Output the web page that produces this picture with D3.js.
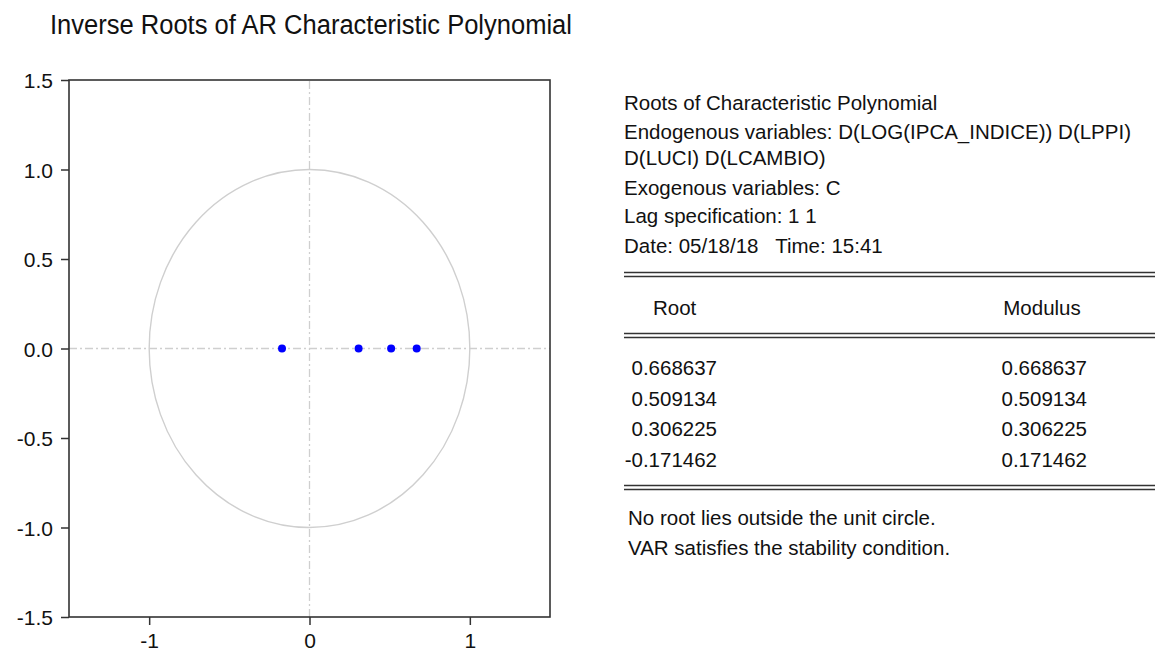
<!DOCTYPE html>
<html>
<head>
<meta charset="utf-8">
<script src="https://cdn.jsdelivr.net/npm/d3@7/dist/d3.min.js"></script>
<style>
  body { margin: 0; background: #fff; }
  text { font-family: "Liberation Sans", Arial, sans-serif; fill: #111; white-space: pre; }
</style>
</head>
<body>
<div id="chart"></div>
<script>
// inverse roots (real, imaginary)
let rootsRe = [0.668637, 0.509134, 0.306225, -0.171462];
let rootsIm = [0, 0, 0, 0];
let rootLabels = ["0.668637", "0.509134", "0.306225", "-0.171462"];
let modulusLabels = ["0.668637", "0.509134", "0.306225", "0.171462"];
let yTicks = [-1.5, -1.0, -0.5, 0.0, 0.5, 1.0, 1.5];
let xTicks = [-1, 0, 1];
let infoLines = [
  "Roots of Characteristic Polynomial",
  "Endogenous variables: D(LOG(IPCA_INDICE)) D(LPPI)",
  "D(LUCI) D(LCAMBIO)",
  "Exogenous variables: C",
  "Lag specification: 1 1",
  "Date: 05/18/18   Time: 15:41"
];
let footLines = [
  "No root lies outside the unit circle.",
  "VAR satisfies the stability condition."
];

let w = 1162, h = 661;
let svg = d3.select("#chart").append("svg")
  .attr("width", w).attr("height", h);

svg.append("rect").attr("width", w).attr("height", h).attr("fill", "#fff");

// title
svg.append("text")
  .attr("x", 50).attr("y", 34)
  .attr("font-size", "27px")
  .attr("textLength", 522)
  .attr("lengthAdjust", "spacingAndGlyphs")
  .text("Inverse Roots of AR Characteristic Polynomial");

let pLeft = 69, pRight = 550, pTop = 80, pBottom = 617;
let x = d3.scaleLinear().domain([-1.5, 1.5]).range([pLeft, pRight]);
let y = d3.scaleLinear().domain([-1.5, 1.5]).range([pBottom, pTop]);

let plot = svg.append("g");

// unit circle
plot.append("ellipse")
  .attr("cx", x(0)).attr("cy", y(0))
  .attr("rx", x(1) - x(0)).attr("ry", y(0) - y(1))
  .attr("fill", "none").attr("stroke", "#cfcfcf").attr("stroke-width", 1.4);

// zero lines
plot.append("line")
  .attr("x1", x(-1.5)).attr("x2", x(1.5)).attr("y1", y(0)).attr("y2", y(0))
  .attr("stroke", "#cfcfcf").attr("stroke-width", 1.3).attr("stroke-dasharray", "8,3,2,3");
plot.append("line")
  .attr("x1", x(0)).attr("x2", x(0)).attr("y1", y(-1.5)).attr("y2", y(1.5))
  .attr("stroke", "#cfcfcf").attr("stroke-width", 1.3).attr("stroke-dasharray", "8,3,2,3");

// roots
plot.selectAll(".root")
  .data(rootsRe)
  .enter().append("circle")
  .attr("class", "root")
  .attr("cx", d => x(d))
  .attr("cy", (d, i) => y(rootsIm[i]))
  .attr("r", 4)
  .attr("fill", "#0000ff");

// frame
plot.append("rect")
  .attr("x", pLeft).attr("y", pTop)
  .attr("width", pRight - pLeft).attr("height", pBottom - pTop)
  .attr("fill", "none").attr("stroke", "#333").attr("stroke-width", 1.6);

// plain hyphen for negatives, like the original
let fmtY = d => d3.format(".1f")(d).replace("\u2212", "-");
let fmtX = d => d3.format("d")(d).replace("\u2212", "-");

let yAxis = d3.axisLeft(y).tickValues(yTicks).tickFormat(fmtY)
  .tickSize(8).tickPadding(8);
let xAxis = d3.axisBottom(x).tickValues(xTicks).tickFormat(fmtX)
  .tickSize(8).tickPadding(8);

let gy = svg.append("g").attr("transform", "translate(" + pLeft + ",0)").call(yAxis);
let gx = svg.append("g").attr("transform", "translate(0," + pBottom + ")").call(xAxis);
[gy, gx].forEach(g => {
  g.select(".domain").remove();
  g.selectAll(".tick line").attr("stroke", "#333").attr("stroke-width", 1.5);
  g.selectAll(".tick text").attr("font-size", "21px")
    .attr("font-family", "Liberation Sans, Arial, sans-serif").attr("fill", "#111");
});
gy.selectAll(".tick text").attr("dy", "0.36em");

// info text on the right
let tx = 624;
let infoBase = [110, 139, 165, 195, 223, 253];
svg.selectAll(".info")
  .data(infoLines)
  .enter().append("text")
  .attr("class", "info")
  .attr("x", tx)
  .attr("y", (d, i) => infoBase[i])
  .attr("font-size", "20.5px")
  .text(d => d);

// double rules
let tableRight = 1155;
function doubleRule(yy) {
  [yy, yy + 4].forEach(v => {
    svg.append("line")
      .attr("x1", tx).attr("x2", tableRight)
      .attr("y1", v).attr("y2", v)
      .attr("stroke", "#333").attr("stroke-width", 1.6);
  });
}
doubleRule(272.5);
doubleRule(333.5);
doubleRule(485.5);

// header
svg.append("text").attr("x", 653).attr("y", 315).attr("font-size", "20.5px").text("Root");
svg.append("text").attr("x", 1042).attr("y", 315).attr("font-size", "20.5px")
  .attr("text-anchor", "middle").text("Modulus");

let rowBase = [375, 406, 436, 467];
svg.selectAll(".rootval")
  .data(rootLabels)
  .enter().append("text")
  .attr("class", "rootval")
  .attr("x", 717).attr("y", (d, i) => rowBase[i])
  .attr("text-anchor", "end")
  .attr("font-size", "20.5px")
  .text(d => d);
svg.selectAll(".modval")
  .data(modulusLabels)
  .enter().append("text")
  .attr("class", "modval")
  .attr("x", 1087).attr("y", (d, i) => rowBase[i])
  .attr("text-anchor", "end")
  .attr("font-size", "20.5px")
  .text(d => d);

let footBase = [525, 555];
svg.selectAll(".foot")
  .data(footLines)
  .enter().append("text")
  .attr("class", "foot")
  .attr("x", 628).attr("y", (d, i) => footBase[i])
  .attr("font-size", "20.5px")
  .text(d => d);
</script>
</body>
</html>
